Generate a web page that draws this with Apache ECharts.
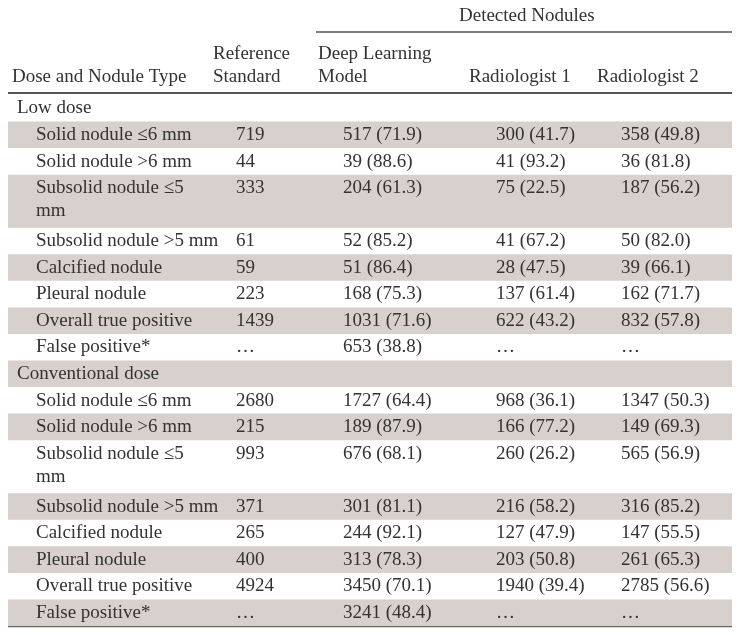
<!DOCTYPE html>
<html><head><meta charset="utf-8">
<script src="https://cdn.jsdelivr.net/npm/echarts@6/dist/echarts.min.js"></script>
<style>html,body{margin:0;padding:0;background:#fff}#c{width:742px;height:635px}</style>
</head><body><div id="c"></div>
<script>
// ---- data ----
const groupHeader = 'Detected Nodules';
const columnHeaders = ['Dose and Nodule Type', 'Reference\nStandard', 'Deep Learning\nModel', 'Radiologist 1', 'Radiologist 2'];
const sections = ['Low dose', 'Conventional dose'];
const noduleTypes = ['Solid nodule ≤6 mm', 'Solid nodule >6 mm', 'Subsolid nodule ≤5\nmm', 'Subsolid nodule >5 mm',
  'Calcified nodule', 'Pleural nodule', 'Overall true positive', 'False positive*'];
const typeLines = [1, 1, 2, 1, 1, 1, 1, 1];

const lowRef = [719, 44, 333, 61, 59, 223, 1439, null];
const lowDLn = [517, 39, 204, 52, 51, 168, 1031, 653];
const lowDLp = [71.9, 88.6, 61.3, 85.2, 86.4, 75.3, 71.6, 38.8];
const lowR1n = [300, 41, 75, 41, 28, 137, 622, null];
const lowR1p = [41.7, 93.2, 22.5, 67.2, 47.5, 61.4, 43.2, null];
const lowR2n = [358, 36, 187, 50, 39, 162, 832, null];
const lowR2p = [49.8, 81.8, 56.2, 82.0, 66.1, 71.7, 57.8, null];

const convRef = [2680, 215, 993, 371, 265, 400, 4924, null];
const convDLn = [1727, 189, 676, 301, 244, 313, 3450, 3241];
const convDLp = [64.4, 87.9, 68.1, 81.1, 92.1, 78.3, 70.1, 48.4];
const convR1n = [968, 166, 260, 216, 127, 203, 1940, null];
const convR1p = [36.1, 77.2, 26.2, 58.2, 47.9, 50.8, 39.4, null];
const convR2n = [1347, 149, 565, 316, 147, 261, 2785, null];
const convR2p = [50.3, 69.3, 56.9, 85.2, 55.5, 65.3, 56.6, null];

// ---- layout / style ----
const FONT = '19px "Liberation Serif", "DejaVu Serif", serif';
const TEXT = '#333333';
const BAND = '#d7d0cc';
const RULE = '#555555';
const TABLE_L = 8, TABLE_R = 732;
const X_SECTION = 17, X_TYPE = 36;
const X_VALUES = [236, 343, 496, 621];
const X_HEADERS = [12, 213, 318, 469, 597];
const LINE_H = 23;

const fmtN = v => v == null ? '…' : String(v);
const fmtNP = (n, p) => n == null ? '…' : n + ' (' + p.toFixed(1) + ')';

// build rows
const blocks = [
  { name: sections[0], ref: lowRef, dn: lowDLn, dp: lowDLp, r1n: lowR1n, r1p: lowR1p, r2n: lowR2n, r2p: lowR2p },
  { name: sections[1], ref: convRef, dn: convDLn, dp: convDLp, r1n: convR1n, r1p: convR1p, r2n: convR2n, r2p: convR2p }
];
const rows = [];
blocks.forEach(b => {
  rows.push({ label: b.name, section: true, lines: 1, cells: [] });
  noduleTypes.forEach((t, i) => {
    rows.push({
      label: t, section: false, lines: typeLines[i],
      cells: [fmtN(b.ref[i]), fmtNP(b.dn[i], b.dp[i]), fmtNP(b.r1n[i], b.r1p[i]), fmtNP(b.r2n[i], b.r2p[i])]
    });
  });
});
let acc = 0;
const seriesData = rows.map((r, i) => { const d = [acc, r.lines, i]; acc += r.lines; return d; });
const totalUnits = acc;

const chart = echarts.init(document.getElementById('c'), null, { renderer: 'canvas' });

function txt(x, y, s) {
  return { type: 'text', x: x, y: y, style: { text: s, font: FONT, fill: TEXT, verticalAlign: 'top', lineHeight: LINE_H } };
}

chart.setOption({
  animation: false,
  backgroundColor: '#fff',
  grid: { left: 0, right: 0, top: 95, bottom: 9 },
  xAxis: { type: 'value', min: 0, max: 742, show: false },
  yAxis: { type: 'value', min: 0, max: totalUnits, inverse: true, show: false },
  graphic: [
    { type: 'text', left: 459, top: 7, style: { text: groupHeader, font: FONT, fill: TEXT } },
    { type: 'line', shape: { x1: 316, y1: 32, x2: TABLE_R, y2: 32 }, style: { stroke: RULE, lineWidth: 1.5 } },
    { type: 'text', left: X_HEADERS[0], top: 68, style: { text: columnHeaders[0], font: FONT, fill: TEXT } },
    { type: 'text', left: X_HEADERS[1], top: 43, style: { text: columnHeaders[1], font: FONT, fill: TEXT, lineHeight: LINE_H } },
    { type: 'text', left: X_HEADERS[2], top: 43, style: { text: columnHeaders[2], font: FONT, fill: TEXT, lineHeight: LINE_H } },
    { type: 'text', left: X_HEADERS[3], top: 68, style: { text: columnHeaders[3], font: FONT, fill: TEXT } },
    { type: 'text', left: X_HEADERS[4], top: 68, style: { text: columnHeaders[4], font: FONT, fill: TEXT } },
    { type: 'line', shape: { x1: TABLE_L, y1: 93, x2: TABLE_R, y2: 93 }, style: { stroke: RULE, lineWidth: 2 } },
    { type: 'line', shape: { x1: TABLE_L, y1: 626, x2: TABLE_R, y2: 626 }, style: { stroke: '#666', lineWidth: 2.5 } }
  ],
  series: [{
    type: 'custom',
    coordinateSystem: 'cartesian2d',
    data: seriesData,
    renderItem: function (params, api) {
      const start = api.value(0), span = api.value(1), idx = api.value(2);
      const row = rows[idx];
      const p0 = api.coord([TABLE_L, start]);
      const p1 = api.coord([TABLE_R, start + span]);
      const children = [];
      if (idx % 2 === 1) {
        children.push({ type: 'rect', shape: { x: p0[0], y: p0[1], width: p1[0] - p0[0], height: p1[1] - p0[1] }, style: { fill: BAND } });
      }
      const ty = p0[1] + 2;
      const lx = api.coord([row.section ? X_SECTION : X_TYPE, start])[0];
      children.push(txt(lx, ty, row.label));
      row.cells.forEach((c, k) => {
        children.push(txt(api.coord([X_VALUES[k], start])[0], ty, c));
      });
      return { type: 'group', children: children };
    }
  }]
});
</script></body></html>
